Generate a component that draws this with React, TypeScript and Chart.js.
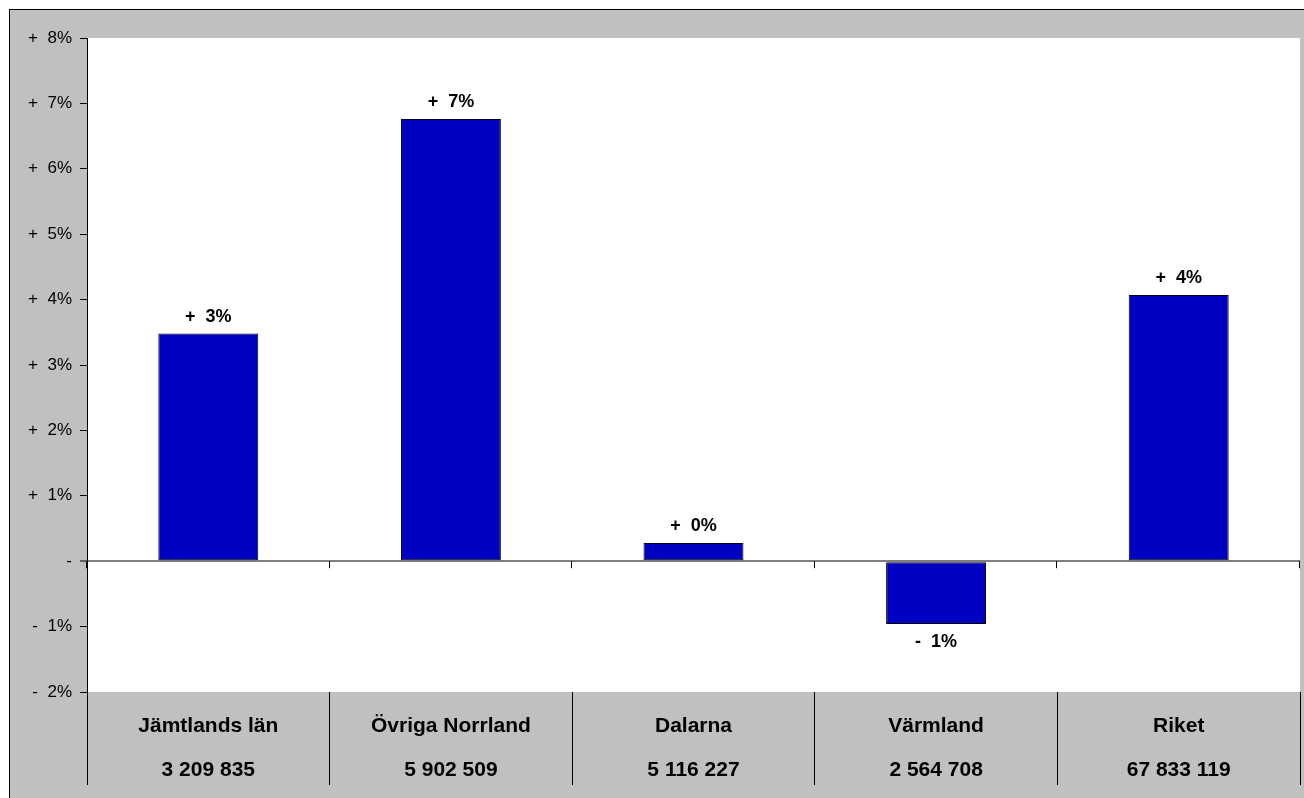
import React, { useEffect, useRef } from "react";
import { Chart, registerables } from "chart.js";

Chart.register(...registerables);

const categories = ["Jämtlands län", "Övriga Norrland", "Dalarna", "Värmland", "Riket"];
const populations = ["3 209 835", "5 902 509", "5 116 227", "2 564 708", "67 833 119"];
const changes = [3.48, 6.76, 0.28, -0.96, 4.07];
const yMin = -2;
const yMax = 8;
const yStep = 1;

const FONT = "'Liberation Sans', Arial, sans-serif";

function fmtPct(v: number): string {
  const r = Math.round(v);
  if (v < 0) return "-  " + Math.abs(r) + "%";
  return "+  " + Math.abs(r) + "%";
}

function fmtTick(v: number): string {
  if (v === 0) return "-";
  if (v < 0) return "-  " + Math.abs(v) + "%";
  return "+  " + v + "%";
}

const backgroundPlugin = {
  id: "bgPlugin",
  beforeDraw(chart: any) {
    const { ctx, width, height, chartArea } = chart;
    ctx.save();
    ctx.fillStyle = "#ffffff";
    ctx.fillRect(0, 0, width, height);
    ctx.fillStyle = "#c0c0c0";
    ctx.fillRect(2, 2, width - 2, height - 2);
    ctx.fillStyle = "#000000";
    ctx.fillRect(1, 1, width - 1, 1);
    ctx.fillRect(1, 1, 1, height - 1);
    ctx.fillStyle = "#ffffff";
    ctx.fillRect(chartArea.left, chartArea.top, chartArea.right - chartArea.left, chartArea.bottom - chartArea.top);
    ctx.restore();
  },
};

const extrasPlugin = {
  id: "extrasPlugin",
  afterDatasetsDraw(chart: any) {
    const { ctx } = chart;
    const xScale = chart.scales.x;
    const yScale = chart.scales.y;
    const y0 = yScale.getPixelForValue(0);
    const n = categories.length;
    ctx.save();
    ctx.strokeStyle = "#000000";
    ctx.lineWidth = 1;
    for (let i = 0; i <= n; i++) {
      const x = Math.round(xScale.left + (i * xScale.width) / n) - 0.5;
      ctx.beginPath();
      ctx.moveTo(x, y0);
      ctx.lineTo(x, y0 + 7);
      ctx.stroke();
    }
    // data labels
    const meta = chart.getDatasetMeta(0);
    ctx.font = "bold 18px " + FONT;
    ctx.fillStyle = "#000000";
    ctx.textAlign = "center";
    ctx.textBaseline = "alphabetic";
    meta.data.forEach((el: any, i: number) => {
      const v = changes[i];
      const txt = fmtPct(v);
      if (v >= 0) {
        ctx.fillText(txt, el.x, el.y - 12);
      } else {
        ctx.fillText(txt, el.x, el.y + 23);
      }
    });
    ctx.restore();
  },
};

export default function App() {
  const canvasRef = useRef<HTMLCanvasElement | null>(null);

  useEffect(() => {
    if (!canvasRef.current) return;
    const chart = new Chart(canvasRef.current, {
      type: "bar",
      data: {
        labels: categories.map((c, i) => [c, populations[i]]),
        datasets: [
          {
            data: changes,
            backgroundColor: "#0000c0",
            borderColor: "#000000",
            borderWidth: 1,
            borderSkipped: false,
            categoryPercentage: 1,
            barPercentage: 0.412,
          },
        ],
      },
      options: {
        animation: false,
        responsive: false,
        maintainAspectRatio: false,
        layout: { padding: { left: 0, top: 30, right: 4, bottom: 0 } },
        plugins: {
          legend: { display: false },
          tooltip: { enabled: false },
          title: { display: false },
        },
        scales: {
          x: {
            type: "category",
            offset: true,
            border: { display: false },
            grid: {
              display: true,
              offset: true,
              drawOnChartArea: false,
              drawTicks: true,
              tickLength: 93,
              color: "#000000",
              tickColor: "#000000",
              tickWidth: 1,
            },
            ticks: {
              color: "#000000",
              font: { family: FONT, size: 21, weight: "bold", lineHeight: "44px" },
              padding: -81,
              maxRotation: 0,
              minRotation: 0,
              autoSkip: false,
            },
            afterFit(scale: any) {
              scale.height = 106;
            },
          },
          y: {
            min: yMin,
            max: yMax,
            border: { display: true, color: "#000000", width: 1 },
            grid: {
              display: true,
              drawOnChartArea: true,
              drawTicks: true,
              tickLength: 7,
              tickColor: "#000000",
              tickWidth: 1,
              color: (ctx: any) => (ctx.tick && ctx.tick.value === 0 ? "#808080" : "rgba(0,0,0,0)"),
              lineWidth: (ctx: any) => (ctx.tick && ctx.tick.value === 0 ? 2 : 1),
            },
            ticks: {
              stepSize: yStep,
              color: "#000000",
              padding: 8,
              font: { family: FONT, size: 17 },
              callback: (v: any) => fmtTick(Number(v)),
            },
            afterFit(scale: any) {
              scale.width = 79;
            },
          },
        },
      },
      plugins: [backgroundPlugin, extrasPlugin],
    });
    return () => chart.destroy();
  }, []);

  return (
    <div style={{ position: "fixed", left: 8, top: 8, width: 1296, height: 790 }}>
      <canvas ref={canvasRef} width={1296} height={790} style={{ display: "block" }} />
    </div>
  );
}
